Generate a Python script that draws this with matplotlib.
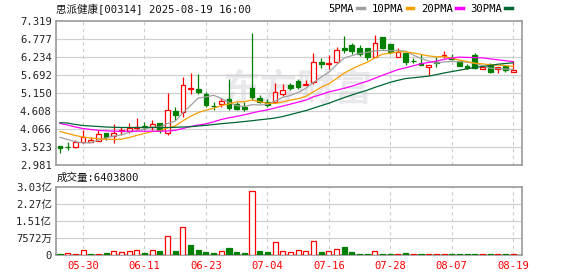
import numpy as np
import pandas as pd
import matplotlib
matplotlib.use("Agg")
import matplotlib.pyplot as plt
from matplotlib.lines import Line2D

plt.rcParams['font.family'] = ['DejaVu Sans Mono', 'Noto Sans CJK SC']

title = "思派健康[00314] 2025-08-19 16:00"
vol_title = "成交量:6403800"

opens = [3.55, 3.52, 3.53, 3.68, 3.67, 3.71, 3.95, 3.86, 4.00, 4.01,
         4.10, 4.17, 4.12, 4.24, 3.94, 4.61, 4.58, 5.27, 5.26, 5.11,
         4.77, 4.81, 4.96, 4.83, 4.73, 5.29, 4.99, 4.88, 4.88, 5.12,
         5.39, 5.50, 5.39, 5.48, 6.08, 6.02, 6.09, 6.51, 6.61, 6.50,
         6.50, 6.24, 6.84, 6.64, 6.23, 6.36, 6.11, 6.06, 5.93, 6.08,
         6.25, 6.19, 6.11, 5.96, 6.30, 5.86, 5.98, 5.87, 5.97, 5.77]
highs = [3.56, 3.68, 3.73, 4.04, 3.83, 4.04, 3.95, 4.22, 4.13, 4.26,
         4.39, 4.29, 4.34, 4.24, 5.15, 4.74, 5.64, 5.76, 5.71, 5.18,
         4.89, 5.01, 5.56, 4.89, 4.89, 6.95, 5.09, 4.96, 5.45, 5.42,
         5.46, 5.57, 5.54, 6.35, 6.20, 6.30, 6.55, 6.87, 6.66, 6.60,
         6.51, 6.90, 6.85, 6.64, 6.52, 6.37, 6.20, 6.33, 6.00, 6.24,
         6.41, 6.33, 6.11, 6.02, 6.35, 5.92, 6.05, 5.94, 5.97, 6.11]
lows = [3.35, 3.43, 3.50, 3.64, 3.66, 3.70, 3.73, 3.64, 3.88, 3.94,
        4.04, 4.04, 4.04, 3.94, 3.88, 4.34, 4.43, 5.12, 5.12, 4.72,
        4.64, 4.73, 4.65, 4.64, 4.62, 4.95, 4.84, 4.72, 4.86, 5.07,
        5.24, 5.26, 5.38, 5.43, 5.89, 5.88, 6.05, 6.36, 6.33, 6.27,
        6.15, 6.22, 6.48, 6.31, 6.22, 5.98, 6.05, 5.99, 5.70, 5.93,
        6.20, 6.13, 5.96, 5.87, 5.86, 5.86, 5.76, 5.76, 5.78, 5.77]
closes = [3.50, 3.51, 3.68, 3.83, 3.73, 3.92, 3.82, 3.95, 4.04, 4.11,
          4.13, 4.12, 4.22, 4.04, 4.64, 4.49, 5.39, 5.30, 5.18, 4.79,
          4.75, 4.92, 4.70, 4.68, 4.67, 5.02, 4.87, 4.80, 5.17, 5.24,
          5.30, 5.33, 5.41, 6.08, 6.01, 6.05, 6.45, 6.44, 6.43, 6.33,
          6.22, 6.67, 6.51, 6.38, 6.39, 6.09, 6.10, 5.99, 6.00, 6.05,
          6.30, 6.16, 5.97, 5.91, 5.89, 5.92, 5.79, 5.92, 5.83, 5.85]
# volume in millions of shares
volumes = [4.4, 8.9, 4.0, 20.7, 4.4, 4.6, 8.9, 16.3, 13.3, 16.3,
           20.7, 8.9, 20.7, 17.7, 82.7, 17.7, 122.6, 44.3, 20.7, 13.3,
           8.9, 16.3, 31.0, 13.3, 8.9, 282.0, 17.7, 13.3, 56.0, 16.3,
           11.8, 20.7, 16.3, 62.0, 13.3, 16.3, 26.6, 35.5, 13.3, 4.4,
           4.4, 16.3, 4.4, 4.2, 4.4, 8.9, 4.4, 4.3, 4.4, 4.4,
           4.4, 4.6, 4.4, 4.2, 4.4, 4.4, 4.3, 4.4, 4.4, 6.4]

# moving averages before the window is full
ma5_head = [3.815, 3.749, 3.683, 3.644]
ma10_head = [3.990, 3.930, 3.870, 3.825, 3.794, 3.770, 3.755, 3.749, 3.758]
ma20_head = [4.231, 4.186, 4.126, 4.080, 4.050, 4.026, 4.011, 3.999, 3.999, 3.999,
             3.999, 3.999, 3.999, 3.999, 4.005, 4.026, 4.080, 4.141, 4.186]
ma30_head = [4.255, 4.246, 4.201, 4.171, 4.156, 4.141, 4.126, 4.117, 4.111, 4.111,
             4.111, 4.111, 4.111, 4.111, 4.111, 4.117, 4.126, 4.135, 4.156, 4.177,
             4.201, 4.225, 4.246, 4.267, 4.291, 4.315, 4.343, 4.367, 4.397]

date_pos = [3, 11, 19, 27, 35, 43, 51, 59]
date_labels = ["05-30", "06-11", "06-23", "07-04", "07-16", "07-28", "08-07", "08-19"]
price_ticks = [2.981, 3.523, 4.066, 4.608, 5.150, 5.692, 6.234, 6.777, 7.319]
vol_ticks = [0, 75.72, 151.44, 227.16, 302.88]
vol_labels = ["0", "7572万", "1.51亿", "2.27亿", "3.03亿"]

RED = "#ff0000"
GREEN = "#008000"
ma_names = ["5PMA", "10PMA", "20PMA", "30PMA"]
ma_colors = ["#a0a0a0", "#f5a000", "#ff00ff", "#006633"]
FS = 7.6

o = np.array(opens); h = np.array(highs); l = np.array(lows); c = np.array(closes)
n = len(c)
x = np.arange(n)
prev = np.concatenate([[o[0]], c[:-1]])
day_up = c >= prev
cand_up = np.where(c == o, day_up, c > o)

cs = pd.Series(c)
mas = []
for w, head in zip([5, 10, 20, 30], [ma5_head, ma10_head, ma20_head, ma30_head]):
    m = cs.rolling(w).mean().to_numpy()
    m[:len(head)] = head
    mas.append(m)

fig = plt.figure(figsize=(5.78, 2.76), dpi=100)
left, width = 56 / 578, 466 / 578
ax = fig.add_axes([left, 1 - 165 / 276, width, 144 / 276])
axv = fig.add_axes([left, 1 - 255 / 276, width, 68.5 / 276])

frame = "#999999"
for a in (ax, axv):
    a.set_xlim(-0.52, n + 0.15)
    for s in a.spines.values():
        s.set_color(frame)
        s.set_linewidth(1.2)
    for p in date_pos:
        a.axvline(p, color="#cccccc", lw=0.8, ls=(0, (3, 3)), zorder=0)
    a.tick_params(length=0, labelsize=FS, colors="#222222")

# watermark
ax.text(0.52, 0.52, "东方财富", transform=ax.transAxes, fontsize=27, fontweight="bold",
        family="Noto Sans CJK SC", color="#e9e9ed", ha="center", va="center", zorder=0)

# price panel
ax.set_ylim(price_ticks[0], price_ticks[-1])
ax.set_yticks(price_ticks)
ax.set_yticklabels(["%.3f" % t for t in price_ticks])
for t in price_ticks[1:-1]:
    ax.axhline(t, color="#d0d0d0", lw=0.9, zorder=0)
ax.set_xticks([])
ax.tick_params(axis="y", pad=3)

col = np.where(cand_up, RED, GREEN)
face = np.where(cand_up, "white", GREEN)
ax.vlines(x, l, h, colors=col, lw=0.9, zorder=2)
body = np.maximum(np.abs(c - o), 0.012)
ax.bar(x, body, bottom=np.minimum(o, c), width=0.62, color=face, edgecolor=col,
       linewidth=0.9, zorder=3)
for m, clr in zip(mas, ma_colors):
    ax.plot(x, m, color=clr, lw=0.9, zorder=4)

# volume panel
vcol = np.where(day_up, RED, GREEN)
vface = np.where(day_up, "white", GREEN)
axv.bar(x, volumes, width=0.66, color=vface, edgecolor=vcol, linewidth=0.9, zorder=3)
axv.set_ylim(0, vol_ticks[-1])
axv.set_yticks(vol_ticks)
axv.set_yticklabels(vol_labels)
for t in vol_ticks[1:-1]:
    axv.axhline(t, color="#d0d0d0", lw=0.9, zorder=0)
axv.set_xticks(date_pos)
axv.set_xticklabels(date_labels, color=RED)
axv.tick_params(axis="x", pad=4, colors=RED)
axv.tick_params(axis="y", pad=3)

fig.text(56 / 578, 1 - 9 / 276, title, fontsize=FS, color="#111111", ha="left", va="center")
fig.text(57 / 578, 1 - 177.5 / 276, vol_title, fontsize=FS, color="#111111", ha="left", va="center")

handles = [Line2D([0], [0], color=clr, lw=2.5) for clr in ma_colors]
fig.legend(handles, ma_names, loc="center right", bbox_to_anchor=(512 / 578, 1 - 9 / 276),
           ncol=4, frameon=False, markerfirst=False, handlelength=0.65, handletextpad=0.3,
           columnspacing=0.7, fontsize=FS, borderaxespad=0, borderpad=0)

fig.savefig("out.png", dpi=100)
